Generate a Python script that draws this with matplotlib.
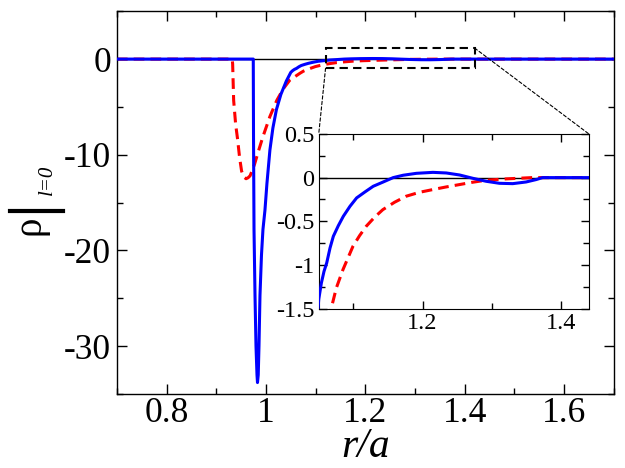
import matplotlib
matplotlib.use("Agg")
import matplotlib.pyplot as plt
from matplotlib.lines import Line2D
from matplotlib.patches import Rectangle, ConnectionPatch
from matplotlib.ticker import MultipleLocator, FuncFormatter


# ---- data ----
blue_x = [0.700, 0.9745, 0.975, 0.976, 0.978, 0.980, 0.982, 0.983, 0.9845, 0.986,
          0.988, 0.991, 0.994, 0.998, 1.002, 1.008, 1.014, 1.021, 1.030, 1.041,
          1.050, 1.0538, 1.0576, 1.0615, 1.0663, 1.0711, 1.0783, 1.0855, 1.0951, 1.1047,
          1.1167, 1.1287, 1.1431, 1.1575, 1.1719, 1.1911, 1.2150, 1.2342, 1.2534, 1.2726,
          1.2918, 1.3110, 1.3302, 1.3494, 1.3638, 1.3734, 1.700]
blue_y = [0.0, 0.0, -8.0, -17.8, -24.7, -30.0, -33.0, -33.8, -33.0, -30.0,
          -24.7, -20.5, -17.8, -15.8, -13.0, -9.5, -7.2, -5.3, -3.7, -2.3,
          -1.39, -1.204, -1.071, -0.975, -0.804, -0.670, -0.549, -0.442, -0.328, -0.232,
          -0.164, -0.099, -0.050, 0.0, 0.027, 0.049, 0.060, 0.053, 0.030, -0.008,
          -0.042, -0.065, -0.069, -0.050, -0.023, 0.0, 0.0]

red_x = [0.700, 0.932, 0.933, 0.935, 0.939, 0.943, 0.947, 0.951, 0.955, 0.960,
         0.964, 0.968, 0.972, 0.977, 0.985, 0.994, 1.008, 1.022, 1.035, 1.048,
         1.0682, 1.0754, 1.0850, 1.0922, 1.0994, 1.1090, 1.1186, 1.1306, 1.1426, 1.1594,
         1.1762, 1.1954, 1.2146, 1.2338, 1.2530, 1.2722, 1.2914, 1.3200, 1.3580, 1.700]
red_y = [0.0, 0.0, -0.5, -4.3, -6.8, -8.4, -10.3, -11.7, -12.3, -12.5,
         -12.4, -12.2, -11.7, -11.0, -9.6, -8.1, -6.0, -4.3, -3.1, -2.2,
         -1.489, -1.261, -1.051, -0.918, -0.785, -0.663, -0.556, -0.453, -0.366, -0.282,
         -0.213, -0.168, -0.137, -0.107, -0.080, -0.053, -0.030, -0.015, 0.0, 0.0]

main_xlim = (0.7, 1.7)
main_ylim = (-35, 5)
inset_xlim = (1.05, 1.44)
inset_ylim = (-1.5, 0.5)
zoom_box = (1.12, -0.95, 0.30, 2.1)  # x, y, width, height of the dashed box

plt.rcParams.update({
    "font.family": ["Liberation Serif", "DejaVu Serif"],
    "axes.unicode_minus": False,
    "xtick.direction": "in",
    "ytick.direction": "in",
    "xtick.top": True,
    "ytick.right": True,
})

fig = plt.figure(figsize=(6.25, 4.68), dpi=100)
ax = fig.add_axes([0.187, 0.158, 0.795, 0.818])


def fmt(v, _pos):
    return f"{v:g}"


def draw(a):
    a.axhline(0, color="black", lw=1.0, zorder=1)
    a.plot(red_x, red_y, color="red", lw=2.2, dashes=(3.5, 2.0), zorder=2)
    a.plot(blue_x, blue_y, color="blue", lw=2.2, zorder=3)


draw(ax)
ax.set_xlim(*main_xlim)
ax.set_ylim(*main_ylim)
ax.xaxis.set_major_locator(MultipleLocator(0.2))
ax.xaxis.set_minor_locator(MultipleLocator(0.1))
ax.yaxis.set_major_locator(MultipleLocator(10))
ax.yaxis.set_minor_locator(MultipleLocator(5))
ax.xaxis.set_major_formatter(FuncFormatter(fmt))
ax.yaxis.set_major_formatter(FuncFormatter(fmt))
ax.tick_params(which="major", length=7, width=1, labelsize=25.5)
ax.tick_params(axis="x", which="major", pad=2)
ax.tick_params(axis="y", which="major", pad=4)
ax.tick_params(which="minor", length=4, width=1)
ax.set_xlabel("r/a", fontsize=30, style="italic", labelpad=-2)
for s in ax.spines.values():
    s.set_linewidth(1.0)

# y label: rho, a heavy bar and the italic subscript l=0
fig.text(0.048, 0.519, "ρ", rotation=90, fontsize=28, ha="center", va="center")
fig.add_artist(Line2D([0.016, 0.101], [0.550, 0.550], color="black", lw=3.0,
                      transform=fig.transFigure))
fig.text(0.076, 0.615, "l=0", rotation=90, fontsize=15, style="italic",
         ha="center", va="center")

ax.add_patch(Rectangle((zoom_box[0], zoom_box[1]), zoom_box[2], zoom_box[3],
                       fill=False, edgecolor="black", lw=1.5,
                       linestyle=(0, (4, 2.5)), zorder=4))

axin = fig.add_axes([0.510, 0.340, 0.432, 0.374])
draw(axin)
axin.set_xlim(*inset_xlim)
axin.set_ylim(*inset_ylim)
axin.xaxis.set_major_locator(MultipleLocator(0.2))
axin.xaxis.set_minor_locator(MultipleLocator(0.1))
axin.yaxis.set_major_locator(MultipleLocator(0.5))
axin.yaxis.set_minor_locator(MultipleLocator(0.25))
axin.xaxis.set_major_formatter(FuncFormatter(fmt))
axin.yaxis.set_major_formatter(FuncFormatter(fmt))
axin.tick_params(which="major", length=6, width=1, labelsize=17.5, pad=3)
axin.tick_params(which="minor", length=4, width=1)

for xyA, xyB in [((zoom_box[0], zoom_box[1]), (0, 1)),
                 ((zoom_box[0] + zoom_box[2], zoom_box[1] + zoom_box[3]), (1, 1))]:
    con = ConnectionPatch(xyA=xyA, coordsA=ax.transData, xyB=xyB,
                          coordsB=axin.transAxes, color="black", lw=0.8,
                          linestyle=(0, (3, 2)))
    fig.add_artist(con)

fig.savefig("out.png", dpi=100)
